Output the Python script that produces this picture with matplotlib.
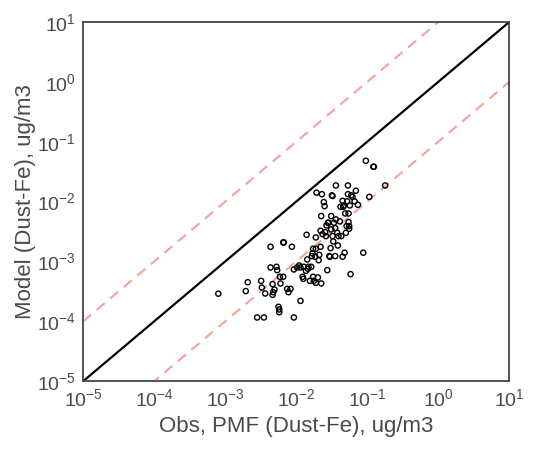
import numpy as np
import matplotlib
matplotlib.use("Agg")
import matplotlib.pyplot as plt
import seaborn as sns

# Observed (PMF) vs modelled dust Fe, ug/m3
obs = [8.0e-4, 1.95e-3, 2.08e-3, 3.21e-3, 3.28e-3, 3.66e-3, 2.82e-3, 3.51e-3,
       4.35e-3, 4.35e-3, 4.65e-3, 4.65e-3, 4.74e-3, 4.95e-3, 5.28e-3, 5.39e-3,
       5.64e-3, 5.77e-3, 5.77e-3, 5.89e-3, 6.01e-3, 6.56e-3, 6.56e-3, 6.70e-3,
       7.46e-3, 7.80e-3, 8.32e-3, 8.69e-3, 9.27e-3, 1.15e-2, 9.27e-3, 1.03e-2,
       1.10e-2, 1.15e-2, 1.23e-2, 1.26e-2, 1.28e-2, 1.37e-2, 1.40e-2, 1.43e-2,
       1.46e-2, 1.49e-2, 1.56e-2, 1.63e-2, 1.66e-2, 1.70e-2, 1.73e-2, 1.77e-2,
       1.85e-2, 1.89e-2, 1.89e-2, 1.89e-2, 1.93e-2, 2.02e-2, 2.07e-2, 2.11e-2,
       2.20e-2, 2.25e-2, 2.25e-2, 2.30e-2, 2.35e-2, 2.45e-2, 2.51e-2, 2.62e-2,
       2.67e-2, 2.74e-2, 2.79e-2, 2.92e-2, 2.98e-2, 3.05e-2, 3.11e-2, 3.18e-2,
       3.25e-2, 3.11e-2, 3.25e-2, 3.32e-2, 3.40e-2, 3.54e-2, 3.62e-2, 3.62e-2,
       3.78e-2, 3.86e-2, 3.94e-2, 4.12e-2, 4.21e-2, 4.31e-2, 4.50e-2, 4.50e-2,
       4.59e-2, 4.69e-2, 4.80e-2, 4.90e-2, 5.01e-2, 5.12e-2, 5.22e-2, 5.35e-2,
       5.35e-2, 5.46e-2, 5.57e-2, 5.57e-2, 5.70e-2, 5.82e-2, 5.96e-2, 6.21e-2,
       6.64e-2, 6.92e-2, 7.40e-2, 8.79e-2, 9.57e-2, 0.107, 0.122, 0.124,
       0.179, 3.54e-2, 2.56e-2, 2.85e-2, 5.46e-2, 1.73e-2, 2.20e-2]

model = [2.9e-4, 3.2e-4, 4.5e-4, 4.75e-4, 3.67e-4, 2.92e-4, 1.16e-4, 1.16e-4,
         1.76e-3, 7.94e-4, 4.18e-4, 2.77e-4, 3.07e-4, 3.4e-4, 8.15e-4, 7.16e-4,
         1.75e-4, 1.58e-4, 1.42e-4, 5.55e-4, 4.29e-4, 5.55e-4, 2.08e-3, 2.08e-3,
         3.49e-4, 3.07e-4, 3.49e-4, 1.76e-3, 1.16e-4, 2.2e-4, 7.35e-4, 7.94e-4,
         8.57e-4, 7.94e-4, 5.55e-4, 5.13e-4, 8.15e-4, 6.98e-4, 2.79e-3, 1.08e-3,
         7.53e-4, 8.15e-4, 4.75e-4, 8.15e-4, 1.23e-3, 1.36e-3, 5.55e-4, 4.75e-4,
         1.20e-3, 1.63e-3, 2.52e-3, 4.4e-4, 1.41e-2, 5.41e-4, 1.05e-3, 1.29e-3,
         3.26e-3, 5.73e-3, 4.29e-4, 1.33e-2, 2.86e-3, 9.82e-3, 8.41e-3, 2.65e-3,
         4.0e-3, 7.16e-4, 4.43e-3, 1.23e-3, 1.2e-3, 1.67e-3, 3.43e-3, 1.27e-2,
         1.24e-2, 5.73e-3, 2.65e-3, 2.16e-3, 4.43e-3, 3.61e-3, 1.86e-2, 5.04e-3,
         3.01e-3, 1.85e-3, 2.65e-3, 4.67e-3, 8.2e-3, 2.65e-3, 1.03e-2, 1.2e-3,
         8.2e-3, 8.63e-3, 1.40e-3, 6.34e-3, 3.01e-3, 3.9e-3, 1.01e-2, 1.33e-2,
         1.86e-2, 4.54e-3, 3.52e-3, 3.9e-3, 8.63e-3, 6.14e-4, 1.27e-2, 1.20e-2,
         1.01e-2, 1.52e-2, 8.85e-3, 1.40e-3, 4.81e-2, 1.20e-2, 3.82e-2, 3.82e-2,
         1.86e-2, 1.23e-3, 3.09e-3, 4.43e-3, 6.34e-3, 1.63e-3, 1.76e-3]

lims = [1e-5, 10]
decades = [1e-5, 1e-4, 1e-3, 1e-2, 1e-1, 1e0, 1e1]

sns.set_style("white")
plt.rcParams['font.family'] = ['Liberation Sans', 'DejaVu Sans']
plt.rcParams['mathtext.fontset'] = 'custom'
plt.rcParams['mathtext.rm'] = 'Liberation Sans'
plt.rcParams['mathtext.it'] = 'Liberation Sans'

fig = plt.figure(figsize=(5.47, 4.49), dpi=100)
ax = fig.add_axes([0.152, 0.151, 0.779, 0.80])

ref = np.array(lims)
pink = '#f2a29c'
ax.plot(ref, ref, color='black', linewidth=1.6, zorder=2)
ax.plot(ref, ref * 10, color=pink, linestyle='--', linewidth=1.5, dashes=(5, 3.5), zorder=1)
ax.plot(ref, ref / 10, color=pink, linestyle='--', linewidth=1.5, dashes=(5, 3.5), zorder=1)

ax.scatter(obs, model, s=14, facecolors='none', edgecolors='black', linewidths=1.0, zorder=3)

ax.set_xscale('log')
ax.set_yscale('log')
ax.set_xlim(lims)
ax.set_ylim(lims)
ax.set_xticks(decades)
ax.set_yticks(decades)
ax.minorticks_off()
ax.tick_params(labelsize=14, colors='#4a4a4a', length=0, pad=5)

for sp in ax.spines.values():
    sp.set_color('#444444')
    sp.set_linewidth(1.3)

ax.set_xlabel("Obs, PMF (Dust-Fe), ug/m3", fontsize=16, color='#4a4a4a', labelpad=4)
ax.set_ylabel("Model (Dust-Fe), ug/m3", fontsize=16, color='#4a4a4a', labelpad=1)

fig.savefig("out.png", dpi=100)
